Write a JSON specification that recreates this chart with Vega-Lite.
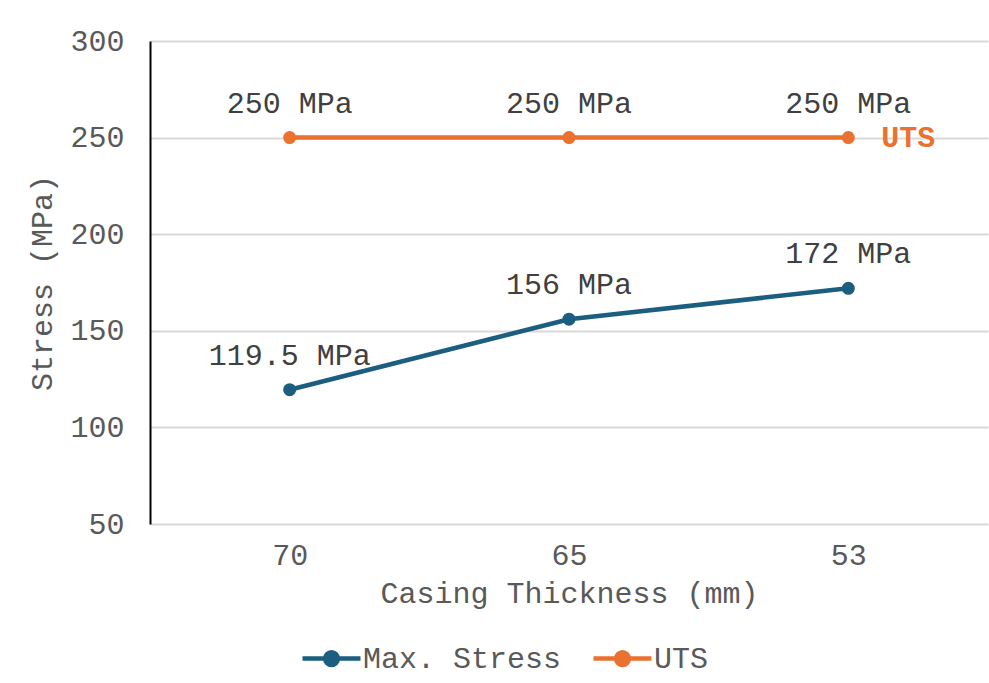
{
  "$schema": "https://vega.github.io/schema/vega-lite/v6.json",
  "autosize": {"type": "none"},
  "width": 838,
  "height": 483,
  "padding": {"left": 150, "top": 41, "right": 1, "bottom": 159},
  "background": "white",
  "config": {
    "font": "Liberation Mono",
    "view": {"stroke": null},
    "axis": {"labelFont": "Liberation Mono", "titleFont": "Liberation Mono", "labelColor": "#595959", "titleColor": "#595959", "labelFontSize": 30, "titleFontSize": 30, "titleFontWeight": "normal", "ticks": false, "gridColor": "#d9d9d9", "gridWidth": 2}
  },
  "data": {
    "values": [
      {"thickness": "70", "series": "Max. Stress", "stress": 119.5, "label": "119.5 MPa"},
      {"thickness": "65", "series": "Max. Stress", "stress": 156, "label": "156 MPa"},
      {"thickness": "53", "series": "Max. Stress", "stress": 172, "label": "172 MPa"},
      {"thickness": "70", "series": "UTS", "stress": 250, "label": "250 MPa"},
      {"thickness": "65", "series": "UTS", "stress": 250, "label": "250 MPa"},
      {"thickness": "53", "series": "UTS", "stress": 250, "label": "250 MPa"}
    ]
  },
  "encoding": {
    "x": {"field": "thickness", "type": "ordinal", "sort": ["70", "65", "53"], "scale": {"type": "point", "padding": 0.5}, "axis": {"title": "Casing Thickness (mm)", "labelAngle": 0, "domain": false, "grid": false, "labelPadding": 16, "titlePadding": 8}},
    "y": {"field": "stress", "type": "quantitative", "scale": {"domain": [50, 300]}, "axis": {"title": "Stress (MPa)", "values": [50, 100, 150, 200, 250, 300], "domainColor": "#000000", "domainWidth": 2, "labelPadding": 26, "titlePadding": 12}}
  },
  "layer": [
    {
      "mark": {"type": "line", "strokeWidth": 4.5, "point": {"filled": true, "size": 170}},
      "encoding": {
        "color": {"field": "series", "type": "nominal", "scale": {"domain": ["Max. Stress", "UTS"], "range": ["#1b5e80", "#eb7130"]},
          "legend": {"title": null, "orient": "none", "direction": "horizontal", "legendX": 150, "legendY": 586, "labelFont": "Liberation Mono", "labelFontSize": 30, "labelColor": "#595959", "labelLimit": 500, "symbolType": "M-1,0H1M0.22,0A0.22,0.22,0,1,1,-0.22,0A0.22,0.22,0,1,1,0.22,0Z", "symbolSize": 3364, "symbolStrokeWidth": 4.5, "labelOffset": 0, "columnPadding": 22,
            "encode": {"symbols": {"update": {"fill": {"field": "value", "scale": "color"}}}}}}
      }
    },
    {
      "mark": {"type": "text", "dy": -34, "fontSize": 30, "color": "#404040", "font": "Liberation Mono"},
      "encoding": {"text": {"field": "label"}}
    },
    {
      "transform": [{"filter": "datum.series == 'UTS' && datum.thickness == '53'"}],
      "mark": {"type": "text", "align": "left", "dx": 33, "fontSize": 30, "fontWeight": "bold", "color": "#eb7130", "font": "Liberation Mono"},
      "encoding": {"text": {"field": "series"}}
    }
  ]
}
